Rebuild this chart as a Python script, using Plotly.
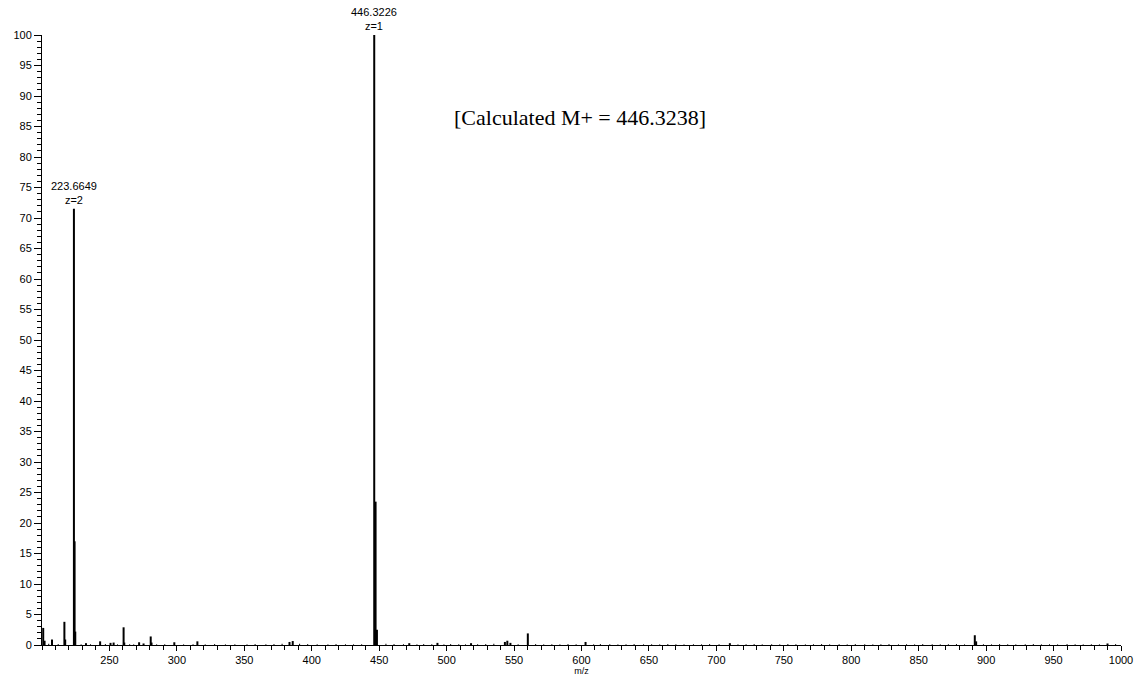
import plotly.graph_objects as go

# Main peaks (m/z, relative abundance %)
peak_mz = [200.9, 201.9, 207.4, 216.6, 217.2, 223.6649, 224.1665, 224.668, 232.6, 243.1, 250.8, 253.1,
           260.5, 261.0, 272.0, 275.3, 280.6, 281.2, 298.1, 315.2, 383.5, 385.9, 446.3226, 447.3259,
           448.3290, 472.3, 493.2, 518.1, 543.2, 545.0, 547.3, 560.2, 603.0, 710.0, 891.6, 892.6, 990.0]
peak_int = [2.8, 0.7, 0.9, 3.8, 0.9, 71.5, 17.0, 2.2, 0.3, 0.6, 0.35, 0.4,
            2.9, 0.4, 0.45, 0.25, 1.4, 0.4, 0.45, 0.6, 0.5, 0.65, 100.0, 23.5,
            2.5, 0.3, 0.35, 0.3, 0.5, 0.7, 0.35, 1.9, 0.5, 0.3, 1.6, 0.6, 0.25]

# Baseline noise
noise_mz = [205, 212, 229, 236, 247, 256, 265, 268, 285, 291, 305, 312, 321, 328, 336, 343, 352, 358,
            366, 372, 378, 391, 397, 404, 412, 418, 425, 431, 437, 455, 461, 468, 478, 483, 489, 498,
            503, 509, 514, 523, 529, 535, 553, 566, 572, 578, 584, 590, 596, 609, 614, 621, 627, 633,
            639, 646, 652, 658, 664, 670, 676, 683, 689, 695, 702, 716, 722, 728, 734, 741, 747, 753,
            759, 766, 772, 778, 784, 791, 797, 803, 810, 816, 822, 828, 835, 841, 847, 853, 860, 866,
            872, 878, 884, 898, 904, 910, 916, 922, 929, 935, 941, 947, 953, 960, 966, 972, 978, 984, 996]
noise_int = [0.2, 0.15, 0.1, 0.12, 0.15, 0.1, 0.12, 0.1, 0.1, 0.12, 0.1, 0.12, 0.1, 0.15, 0.1, 0.12,
             0.1, 0.15, 0.12, 0.15, 0.2, 0.2, 0.15, 0.12, 0.1, 0.15, 0.12, 0.1, 0.12, 0.2, 0.15,
             0.12, 0.1, 0.15, 0.12, 0.1, 0.15, 0.12, 0.1, 0.12, 0.15, 0.2, 0.12, 0.15, 0.1, 0.12,
             0.1, 0.15, 0.12, 0.1, 0.15, 0.12, 0.1, 0.12, 0.15, 0.1, 0.12, 0.1, 0.15, 0.12, 0.1,
             0.12, 0.1, 0.15, 0.12, 0.1, 0.12, 0.15, 0.1, 0.12, 0.1, 0.15, 0.12, 0.1, 0.12, 0.15,
             0.1, 0.12, 0.1, 0.15, 0.12, 0.1, 0.12, 0.15, 0.1, 0.12, 0.1, 0.15, 0.12, 0.1, 0.12,
             0.15, 0.1, 0.12, 0.1, 0.15, 0.12, 0.1, 0.12, 0.15, 0.1, 0.12, 0.1, 0.15, 0.12, 0.1,
             0.12, 0.1, 0.15, 0.2]

x_ticks = [250, 300, 350, 400, 450, 500, 550, 600, 650, 700, 750, 800, 850, 900, 950, 1000]
y_ticks = [0, 5, 10, 15, 20, 25, 30, 35, 40, 45, 50, 55, 60, 65, 70, 75, 80, 85, 90, 95, 100]

labels = [(223.6649, 71.5, "223.6649<br>z=2"), (446.3226, 100.0, "446.3226<br>z=1")]
note_text = "[Calculated M+ = 446.3238]"


def sticks(mz, inten):
    xs, ys = [], []
    for m, i in zip(mz, inten):
        xs += [m, m, None]
        ys += [0, i, None]
    return xs, ys


fig = go.Figure()
nx, ny = sticks(noise_mz, noise_int)
fig.add_trace(go.Scatter(x=nx, y=ny, mode="lines", line=dict(color="black", width=1),
                         hoverinfo="skip", showlegend=False))
px_, py_ = sticks(peak_mz, peak_int)
fig.add_trace(go.Scatter(x=px_, y=py_, mode="lines", line=dict(color="black", width=2),
                         showlegend=False))

for x, y, t in labels:
    fig.add_annotation(x=x, y=y, text=t, showarrow=False, xanchor="center", yanchor="bottom",
                       yshift=1, font=dict(family="Arial", size=11, color="black"))

fig.add_annotation(x=504, y=86.4, text=note_text, showarrow=False, xanchor="left", yanchor="middle",
                   font=dict(family="Liberation Serif, Times New Roman", size=22, color="black"))

fig.update_layout(
    width=1137, height=678,
    margin=dict(l=42, r=16, t=35, b=33),
    paper_bgcolor="white", plot_bgcolor="white",
    font=dict(family="Arial", size=11, color="black"),
    xaxis=dict(range=[200, 1000], tickmode="array", tickvals=x_ticks, automargin=False,
               ticks="outside", ticklen=5, tickwidth=1, tickcolor="black",
               minor=dict(ticks="outside", ticklen=4, dtick=10, tick0=200, tickcolor="black"),
               showline=True, linecolor="black", linewidth=1, showgrid=False, zeroline=False,
               title=dict(text="m/z", font=dict(size=9), standoff=1),
               tickfont=dict(size=11, color="black")),
    yaxis=dict(range=[0, 100], tickmode="array", tickvals=y_ticks, automargin=False,
               ticks="outside", ticklen=7, tickwidth=1, tickcolor="black",
               minor=dict(ticks="outside", ticklen=4, dtick=1, tick0=0, tickcolor="black"),
               showline=True, linecolor="black", linewidth=1, showgrid=False, zeroline=False,
               tickfont=dict(size=11, color="black")),
)

fig.write_html("out.html")
